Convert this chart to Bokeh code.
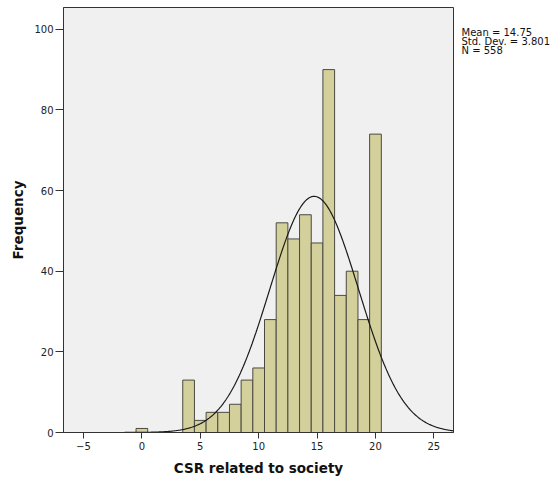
import numpy as np
from bokeh.plotting import figure
from bokeh.layouts import row
from bokeh.models import Range1d, FixedTicker, ColumnDataSource
from bokeh.core.properties import value
from bokeh.embed import file_html
from bokeh.resources import INLINE

# Data (bin centres and counts)
bins = [0, 4, 5, 6, 7, 8, 9, 10, 11, 12, 13, 14, 15, 16, 17, 18, 19, 20]
counts = [1, 13, 3, 5, 5, 7, 13, 16, 28, 52, 48, 54, 47, 90, 34, 40, 28, 74]
mean_val = 14.75
std_val = 3.801
n_val = 558
x_ticks = [-5, 0, 5, 10, 15, 20, 25]
y_ticks = [0, 20, 40, 60, 80, 100]
stats = ["Mean = 14.75", "Std. Dev. = 3.801", "N = 558"]

FONT = "DejaVu Sans"
MAIN_W = 454

p = figure(width=MAIN_W, height=480, output_backend="svg", toolbar_location=None,
           x_range=Range1d(-6.71, 26.68), y_range=Range1d(0, 105.4),
           min_border_left=63, min_border_right=1, min_border_top=7,
           min_border_bottom=48)

p.background_fill_color = "#f0f0f0"
p.border_fill_color = "white"
p.outline_line_color = "#333333"
p.outline_line_width = 1
p.xgrid.visible = False
p.ygrid.visible = False

src = ColumnDataSource(dict(x=bins, top=counts))
p.vbar(x="x", top="top", bottom=0, width=1.0, source=src,
       fill_color="#d4d09b", line_color="#4a4a42", line_width=1)

# fitted normal curve (from reported mean, sd, N; bin width 1)
xs = np.linspace(-6.71, 26.68, 400)
ys = n_val * 1.0 / (std_val * np.sqrt(2 * np.pi)) * np.exp(-0.5 * ((xs - mean_val) / std_val) ** 2)
p.line(xs, ys, line_color="#1a1a1a", line_width=1.2)

for ax, ticks in ((p.xaxis, x_ticks), (p.yaxis, y_ticks)):
    ax.ticker = FixedTicker(ticks=ticks)
    ax.minor_tick_line_color = None
    ax.major_tick_in = 0
    ax.axis_line_color = "#333333"
    ax.major_tick_line_color = "#333333"
    ax.major_label_text_font = FONT
    ax.major_label_text_font_size = "10px"
    ax.major_label_text_color = "#222222"
    ax.axis_label_text_font = FONT
    ax.axis_label_text_font_style = "bold"
    ax.axis_label_text_font_size = "13.5px"
    ax.axis_label_text_color = "#111111"

p.xaxis.major_tick_out = 6
p.yaxis.major_tick_out = 8
p.xaxis.major_label_standoff = 3
p.yaxis.major_label_standoff = 2
p.xaxis.axis_label = "CSR related to society"
p.yaxis.axis_label = "Frequency"
p.xaxis.axis_label_standoff = 7
p.yaxis.axis_label_standoff = 5

# side panel holding the statistics text
side_w = 554 - MAIN_W
s = figure(width=side_w, height=480, output_backend="svg", toolbar_location=None,
           x_range=Range1d(0, side_w), y_range=Range1d(480, 0),
           x_axis_type=None, y_axis_type=None, min_border=0)
s.outline_line_color = None
s.background_fill_color = "white"
s.border_fill_color = "white"
s.xgrid.visible = False
s.ygrid.visible = False
s.text(x=[461 - MAIN_W] * len(stats), y=[22 + 10 * i for i in range(len(stats))],
       text=stats, text_font=value(FONT), text_font_size="10px",
       text_baseline="top", text_align="left", text_color="#111111")

layout = row(p, s, spacing=0)
open("out.html", "w").write(file_html(layout, INLINE))
